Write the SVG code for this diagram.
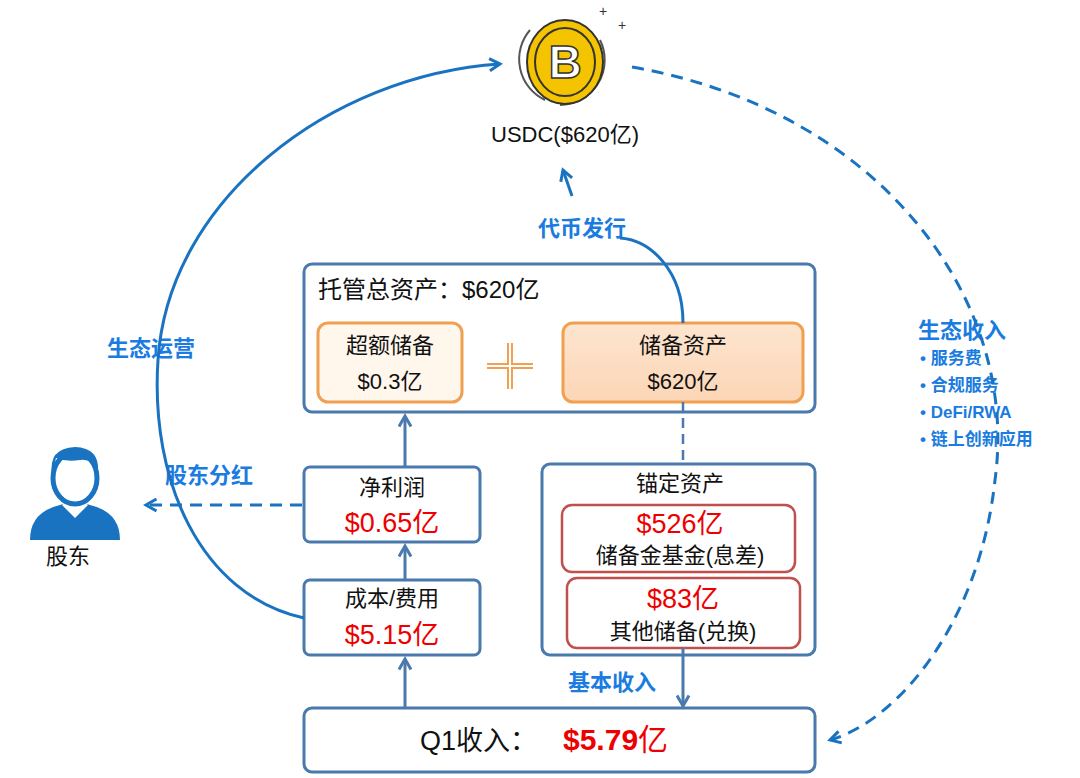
<svg xmlns="http://www.w3.org/2000/svg" width="1080" height="778" viewBox="0 0 1080 778">
<defs>
<style>
text{font-family:"Liberation Sans","Noto Sans CJK SC",sans-serif}
.box{fill:#fff;stroke:#4a79ad;stroke-width:3}
.ob{stroke:#f0a050;stroke-width:3}
.rb{fill:#fff;stroke:#c0504d;stroke-width:2.5}
.bl{fill:#1a7be0;font-weight:bold;font-size:22px}
.k{fill:#111;font-size:22px;text-anchor:middle}
.r{fill:#e00;font-size:27px;text-anchor:middle}
.ln{fill:none;stroke:#1a73c0;stroke-width:3}
.dl{fill:none;stroke:#1a73c0;stroke-width:3;stroke-dasharray:12 8}
.al{fill:none;stroke:#4a79ad;stroke-width:3}
</style>
<marker id="a" viewBox="0 0 10 10" refX="8" refY="5" markerWidth="5" markerHeight="5" orient="auto"><path d="M1 1L8 5L1 9" fill="none" stroke="#1a73c0" stroke-width="2"/></marker>
<marker id="b" viewBox="0 0 10 10" refX="8" refY="5" markerWidth="5" markerHeight="5" orient="auto"><path d="M1 1L8 5L1 9" fill="none" stroke="#4a79ad" stroke-width="2"/></marker>
<linearGradient id="g" x1="0" y1="0" x2="0" y2="1"><stop offset="0" stop-color="#fde5cf"/><stop offset="1" stop-color="#fcd6b6"/></linearGradient>
</defs>
<rect width="1080" height="778" fill="#fff"/>
<g id="coin">
<path d="M530 30A45 45 0 0 0 545 100" fill="none" stroke="#555" stroke-width="2"/>
<path d="M600 40A45 45 0 0 1 560 105" fill="none" stroke="#555" stroke-width="2"/>
<ellipse cx="565" cy="62" rx="38" ry="42" fill="#f5c400" stroke="#333" stroke-width="2"/>
<ellipse cx="565" cy="62" rx="30" ry="34" fill="none" stroke="#333" stroke-width="2"/>
<text x="565" y="78" font-size="46" font-weight="bold" fill="#fff" stroke="#333" stroke-width="1.5" text-anchor="middle">B</text>
<text x="603" y="16" font-size="14" fill="#333" text-anchor="middle">+</text>
<text x="622" y="30" font-size="14" fill="#333" text-anchor="middle">+</text>
<text x="565" y="142" class="k" font-size="21">USDC($620亿)</text>
</g>
<g id="custody">
<rect class="box" x="304" y="264" width="511" height="148" rx="8"/>
<text x="318" y="298" font-size="24" fill="#111">托管总资产：$620亿</text>
</g>
<g id="excess">
<rect class="ob" fill="#fff6ec" x="318" y="323" width="144" height="79" rx="10"/>
<text x="390" y="353" class="k">超额储备</text><text x="390" y="389" class="k" font-size="24">$0.3亿</text>
</g>
<g id="plus"><path d="M510 343V389M487 366H533" stroke="#f0a050" stroke-width="6"/><path d="M510 343V389M487 366H533" stroke="#fff" stroke-width="2"/></g>
<g id="reserve">
<rect class="ob" fill="url(#g)" x="563" y="323" width="240" height="79" rx="10"/>
<text x="683" y="353" class="k">储备资产</text><text x="683" y="389" class="k" font-size="24">$620亿</text>
</g>
<g id="profit">
<rect class="box" x="304" y="467" width="176" height="75" rx="6"/>
<text x="392" y="495" class="k" font-size="24">净利润</text><text x="392" y="532" class="r">$0.65亿</text>
</g>
<g id="cost">
<rect class="box" x="304" y="580" width="176" height="75" rx="6"/>
<text x="392" y="606" class="k">成本/费用</text><text x="392" y="644" class="r">$5.15亿</text>
</g>
<g id="anchor">
<rect class="box" x="542" y="464" width="273" height="191" rx="8"/>
<text x="680" y="491" class="k">锚定资产</text>
<rect class="rb" x="562" y="505" width="233" height="67" rx="10"/>
<text x="680" y="533" class="r">$526亿</text><text x="680" y="563" class="k" font-size="19">储备金基金(息差)</text>
<rect class="rb" x="567" y="578" width="233" height="70" rx="10"/>
<text x="683" y="608" class="r" font-size="25">$83亿</text><text x="683" y="639" class="k" font-size="19">其他储备(兑换)</text>
</g>
<g id="q1">
<rect class="box" x="304" y="708" width="511" height="64" rx="8"/>
<text x="420" y="750" font-size="27" fill="#111">Q1收入：</text>
<text x="563" y="750" font-size="30" fill="#e00" font-weight="bold">$5.79<tspan font-weight="normal">亿</tspan></text>
</g>
<g id="holder">
<path d="M30 540Q30 512 60 505L75 500L90 505Q120 512 120 540Z" fill="#1a73c0"/>
<path d="M62 505L75 518L88 505L82 500H68Z" fill="#fff"/>
<ellipse cx="75" cy="478" rx="22" ry="26" fill="#fff" stroke="#1a73c0" stroke-width="5"/>
<path d="M52 475Q48 448 75 447Q100 448 98 472Q92 458 80 460Q66 462 56 458Z" fill="#1a73c0"/>
<text x="68" y="564" class="k" font-size="24">股东</text>
</g>
<g id="labels">
<text x="538" y="236" class="bl" font-size="24">代币发行</text>
<text x="107" y="356" class="bl" font-size="24">生态运营</text>
<text x="165" y="483" class="bl" font-size="24">股东分红</text>
<text x="568" y="690" class="bl">基本收入</text>
<text x="918" y="338" class="bl" font-size="24">生态收入</text>
<g font-size="17" font-weight="bold" fill="#1a7be0">
<text x="920" y="364">•  服务费</text><text x="920" y="391">•  合规服务</text><text x="920" y="418">•  DeFi/RWA</text><text x="920" y="445">•  链上创新应用</text>
</g>
</g>
<g id="connectors">
<path class="al" d="M405 580V546" marker-end="url(#b)"/>
<path class="al" d="M405 467V416" marker-end="url(#b)"/>
<path class="al" d="M405 708V659" marker-end="url(#b)"/>
<path class="al" d="M683 648V706" marker-end="url(#b)"/>
<path d="M683 402V464" fill="none" stroke="#4a79ad" stroke-width="2.5" stroke-dasharray="10 6"/>
<path class="ln" d="M683 323C683 270 650 240 620 238"/>
<path class="ln" d="M572 196L563 170" marker-end="url(#a)"/>
<path class="dl" d="M302 505H146" marker-end="url(#a)"/>
<path class="ln" d="M304 618C200 595 150 480 158 360C168 200 330 75 500 64" marker-end="url(#a)"/>
<path class="dl" d="M632 67C880 110 1020 300 995 480C980 620 900 720 830 740" marker-end="url(#a)"/>
</g>
</svg>
